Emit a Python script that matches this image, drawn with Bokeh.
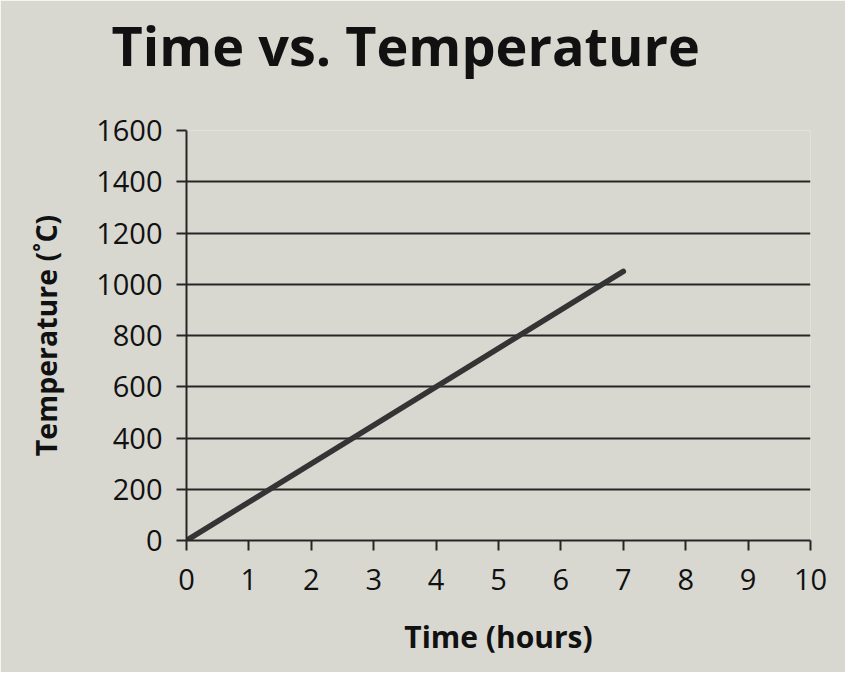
from bokeh.plotting import figure
from bokeh.models import ColumnDataSource, FixedTicker, Range1d, Title
from bokeh.embed import file_html
from bokeh.resources import INLINE

# Data
hours = [0, 7]
temperature = [0, 1050]
x_ticks = [0, 1, 2, 3, 4, 5, 6, 7, 8, 9, 10]
y_ticks = [0, 200, 400, 600, 800, 1000, 1200, 1400, 1600]
title_text = "Time vs. Temperature"

BG = "#d8d8d1"
INK = "#262626"
FONT = "Open Sans"

p = figure(width=845, height=672, output_backend="svg", toolbar_location=None,
           x_range=Range1d(0, 10), y_range=Range1d(0, 1600),
           min_border_left=186, min_border_right=35, min_border_top=0, min_border_bottom=132)
p.background_fill_color = BG
p.border_fill_color = BG
p.outline_line_color = None

# spacer between frame and title
p.add_layout(Title(text=" ", text_font_size="1px", standoff=46), "above")
# main title
p.add_layout(Title(text=title_text, text_font=FONT, text_font_size="54px",
                   text_font_style="bold", text_color="#111111",
                   align="left", offset=-75, standoff=0), "above")
# spacer above the title
p.add_layout(Title(text=" ", text_font_size="1px", standoff=2), "above")

src = ColumnDataSource(dict(x=hours, y=temperature))
p.line("x", "y", source=src, line_width=5.5, line_color="#343434", line_cap="round")

p.xaxis.ticker = FixedTicker(ticks=x_ticks)
p.yaxis.ticker = FixedTicker(ticks=y_ticks)
p.xgrid.grid_line_color = None
p.ygrid.grid_line_color = INK
p.ygrid.grid_line_width = 2

for ax in (p.xaxis[0], p.yaxis[0]):
    ax.axis_line_color = INK
    ax.axis_line_width = 2
    ax.major_tick_line_color = INK
    ax.major_tick_line_width = 2
    ax.minor_tick_line_color = None
    ax.major_tick_in = 0
    ax.major_tick_out = 10
    ax.major_label_text_font = FONT
    ax.major_label_text_font_size = "29px"
    ax.major_label_text_color = "#111111"
    ax.axis_label_text_font = FONT
    ax.axis_label_text_font_style = "bold"
    ax.axis_label_text_color = "#111111"

p.xaxis.axis_label = "Time (hours)"
p.yaxis.axis_label = "Temperature (˚C)"
p.xaxis.axis_label_text_font_size = "30px"
p.yaxis.axis_label_text_font_size = "28.5px"
p.xaxis.major_label_standoff = 18
p.yaxis.major_label_standoff = 14
p.xaxis.axis_label_standoff = 23
p.yaxis.axis_label_standoff = 28

open("out.html", "w").write(file_html(p, INLINE))
